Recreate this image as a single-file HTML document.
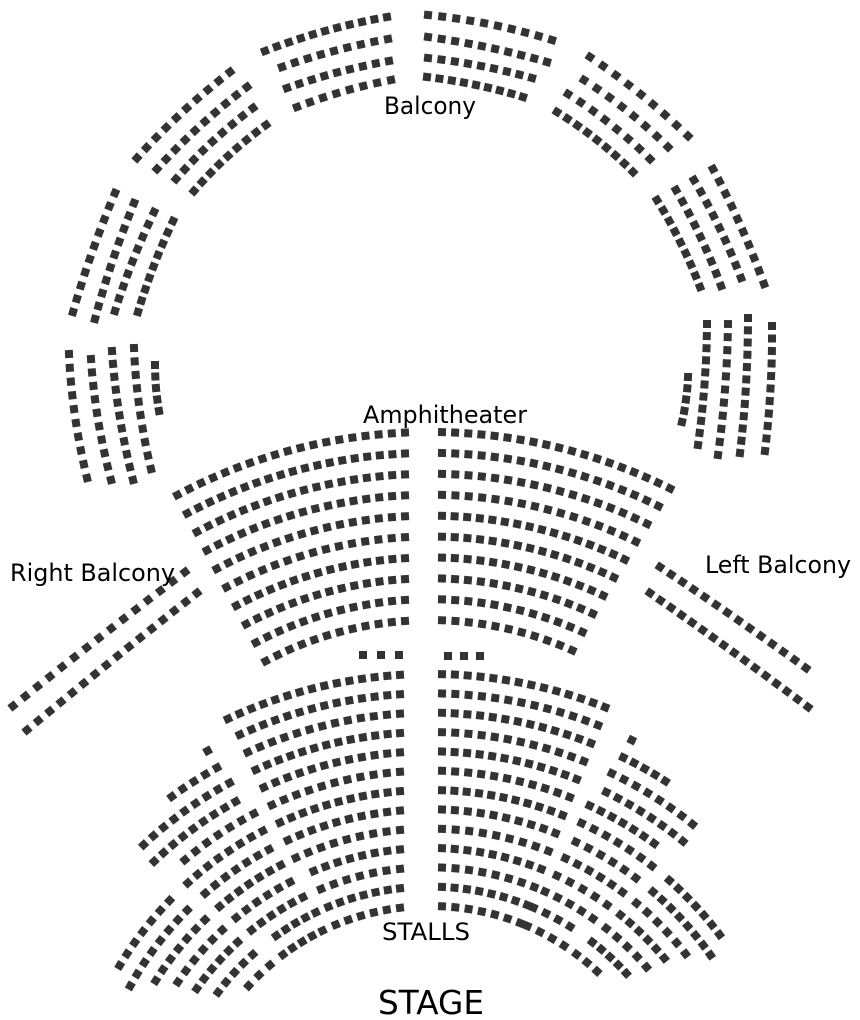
<!DOCTYPE html>
<html><head><meta charset="utf-8"><style>
html,body{margin:0;padding:0;background:#fff;}
svg{display:block}
text{font-family:"DejaVu Sans","Liberation Sans",sans-serif;fill:#000}
</style></head><body>
<svg id="s" width="860" height="1020" viewBox="0 0 860 1020" xmlns="http://www.w3.org/2000/svg">
<g id="seats" fill="#333"></g>
<text x="384" y="114" font-size="24" textLength="92" lengthAdjust="spacingAndGlyphs">Balcony</text>
<text x="363" y="423" font-size="24" textLength="164" lengthAdjust="spacingAndGlyphs">Amphitheater</text>
<text x="10" y="581" font-size="24" textLength="165" lengthAdjust="spacingAndGlyphs">Right Balcony</text>
<text x="705" y="573" font-size="24" textLength="146" lengthAdjust="spacingAndGlyphs">Left Balcony</text>
<text x="382" y="940" font-size="24" textLength="88" lengthAdjust="spacingAndGlyphs">STALLS</text>
<text x="378" y="1014" font-size="33" textLength="106" lengthAdjust="spacingAndGlyphs">STAGE</text>
</svg>
<script>
var S=[];
function norm(a){while(a>45)a-=90;while(a<-45)a+=90;return a;}
function seat(x,y,a){S.push('<rect x="'+(x-4).toFixed(1)+'" y="'+(y-4).toFixed(1)+'" width="8" height="8" transform="rotate('+norm(a).toFixed(1)+' '+x.toFixed(1)+' '+y.toFixed(1)+')"/>');}
function line(x1,y1,x2,y2,n,bx,by){bx=bx||0;by=by||0;
 var cx=(x1+x2)/2+2*bx,cy=(y1+y2)/2+2*by;
 for(var i=0;i<n;i++){var t=n>1?i/(n-1):0;
  var x=(1-t)*(1-t)*x1+2*t*(1-t)*cx+t*t*x2,y=(1-t)*(1-t)*y1+2*t*(1-t)*cy+t*t*y2;
  var dx=2*(1-t)*(cx-x1)+2*t*(x2-cx),dy=2*(1-t)*(cy-y1)+2*t*(y2-cy);
  seat(x,y,Math.atan2(dy,dx)*180/Math.PI);}}
function arc(cx,cy,r,a1,a2,step){step=step||13;
 var n=Math.max(1,Math.round(Math.abs(a2-a1)*Math.PI/180*r/step)+1);
 for(var i=0;i<n;i++){var a=n>1?a1+(a2-a1)*i/(n-1):a1;var ra=a*Math.PI/180;
  seat(cx+r*Math.sin(ra),cy-r*Math.cos(ra),a);}}
function asind(v){return Math.asin(v)*180/Math.PI;}
line(265,51,387,17,11,-1,-3);line(282,67,388,39,9,-1,-2);line(287,88,389,61,9,-1,-2);line(297,107,391,80,8,-1,-2);
line(428,15,552,40,10,1,-3);line(428,37,547,62,10,1,-2);line(428,58,532,78,9,1,-2);line(427,77,523,97,9,1,-2);
line(590,57,688,136,9,2,-2);line(584,80,668,147,8,2,-2);line(568,94,650,159,8,2,-2);line(557,112,633,172,9,2,-2);
line(657,200,700,287,9,2,-1);line(676,190,721,286,9,2,-1);line(694,180,741,278,9,2,-1);line(713,169,764,284,10,2,-1);
line(707,324,698,445,11,2,0);line(728,324,718,455,11,2,0);line(748,318,740,453,12,2,0);line(772,326,765,451,11,2,0);line(688,377,682,422,5,1,0);
line(137,158,230,72,10,-2,-2);line(157,169,247,87,10,-2,-2);line(176,179,253,108,9,-2,-2);line(194,191,266,125,9,-2,-2);
line(115,193,73,312,10,-2,0);line(134,203,95,319,10,-2,0);line(154,212,115,311,9,-2,0);line(173,221,138,312,9,-2,0);
line(69,354,87,478,10,-3,0);line(91,359,111,480,10,-3,0);line(112,351,133,480,11,-3,0);line(134,348,151,469,10,-3,0);line(155,365,159,411,5,-1,0);
line(13,706,185,572,15,0,-1);line(27,730,197,593,16,0,-1);
line(660,567,806,668,14,0,-1);line(650,593,808,707,16,0,-1);
for(var k=0;k<10;k++){var r=538-20.9*k;
 arc(430,970,r,-28,asind(-25/r));
 arc(430,970,r,asind(12/r),26.5-2.5*k/9);}
var C=[430,1152];
var up=[null,[-29,-29],[-36,-29],[-43,-28.5],[-43.5,-29],[-40,-27.5],[-42,-27],[-41,-28],[-40.6,-27],[-39.6,-27.4],[-38.8,-26.5],[-35.4,-25.5],[-36.7,-25.9]];
var low={6:[-59,-46],7:[-61,-45.1],8:[-58,-44.1],9:[-56,-43.1],10:[-55,-42.5],11:[-53,-41.9],12:[-47.5,-40.6]};
for(var k=0;k<13;k++){var r=478-19.33*k;
 var cl=k<9?-24.5:-22.5; if(k==0)cl=-25;
 arc(C[0],C[1],r,cl,asind(-30/r));
 arc(C[0],C[1],r,asind(12/r),21.5);
 if(up[k]){var u=up[k];var ue=Math.min(u[1],cl-3);arc(C[0],C[1],r,u[0],ue);
   arc(C[0],C[1],r,-u[0]*0.9,-ue*0.9);}
 if(low[k]){var l=low[k];arc(C[0],C[1],r,l[0],l[1]);arc(C[0],C[1],r,-l[0]*0.9,-l[1]*0.9);}
}
seat(363,655,0);seat(381,655,0);seat(399,655,0);
seat(448,656,0);seat(464,656,0);seat(480,656,0);
document.getElementById('seats').innerHTML=S.join('');
</script>
</body></html>
